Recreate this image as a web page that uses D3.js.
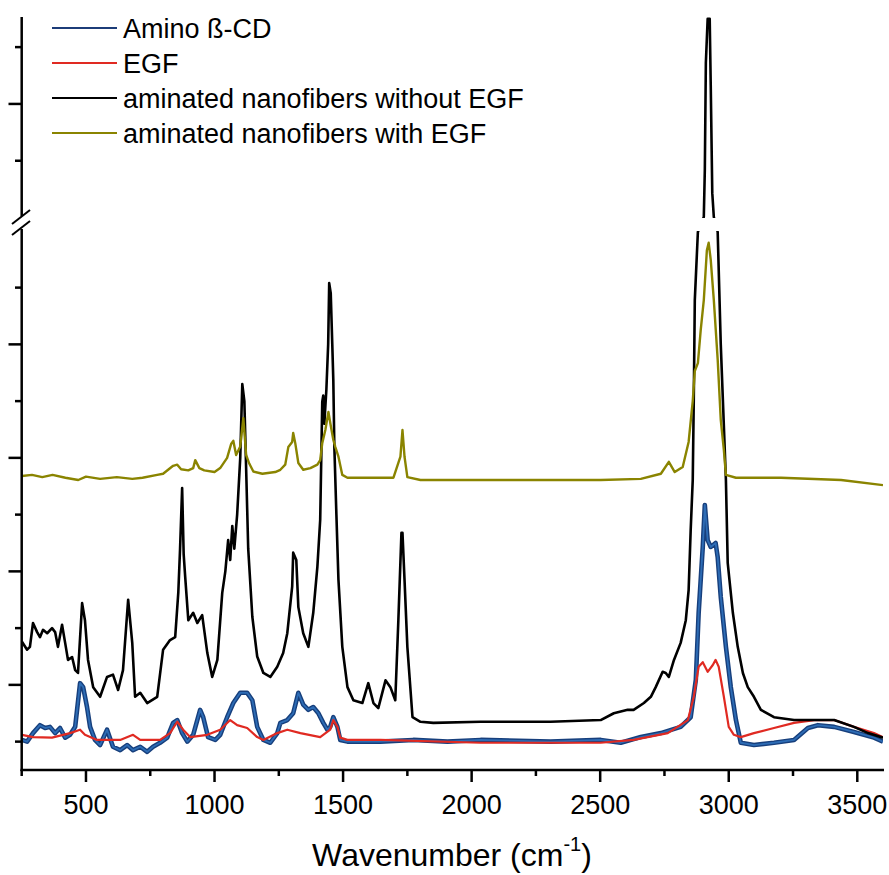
<!DOCTYPE html>
<html>
<head>
<meta charset="utf-8">
<script src="https://cdn.jsdelivr.net/npm/d3@7"></script>
<style>
  body { margin: 0; background: #fff; }
  svg { display: block; font-family: "Liberation Sans", Arial, sans-serif; }
</style>
</head>
<body>
<script>
// Raman spectra, [wavenumber (cm-1), intensity (a.u.)]
var aminoCD = [[251,3],[271,0],[294,15],[321,29],[341,24],[360,26],[380,15],[399,24],[419,7],[438,12],[458,26],[477,103],[489,96],[504,61],[516,26],[535,3],[555,-6],[582,21],[605,-9],[633,-15],[660,-6],[683,-15],[711,-9],[738,-18],[761,-9],[788,-2],[816,7],[839,33],[855,38],[874,15],[894,0],[917,12],[944,56],[956,43],[975,8],[1003,3],[1022,12],[1049,43],[1073,68],[1100,86],[1127,86],[1147,73],[1166,26],[1190,3],[1217,-2],[1244,15],[1256,33],[1283,38],[1306,50],[1326,86],[1345,65],[1365,56],[1384,61],[1404,50],[1423,33],[1439,21],[1450,26],[1462,43],[1478,26],[1489,3],[1517,0],[1645,0],[1773,3],[1906,0],[2035,3],[2307,0],[2502,3],[2580,-2],[2658,8],[2736,15],[2813,26],[2852,43],[2872,109],[2883,227],[2899,343],[2907,417],[2918,355],[2930,343],[2949,350],[2957,325],[2969,255],[2989,167],[3008,96],[3028,38],[3047,-2],[3098,-6],[3176,-2],[3254,3],[3308,24],[3347,29],[3410,26],[3487,17],[3565,7],[3600,0]];

var egf = [[251,12],[294,8],[368,7],[438,15],[477,21],[496,12],[543,3],[633,3],[683,12],[711,3],[788,3],[827,15],[855,35],[878,21],[905,8],[972,12],[1022,21],[1061,38],[1088,29],[1127,24],[1166,8],[1190,3],[1244,15],[1283,21],[1334,15],[1411,8],[1450,21],[1462,38],[1478,26],[1489,7],[1517,3],[1645,3],[2035,-2],[2502,-2],[2630,3],[2763,15],[2841,38],[2864,79],[2883,132],[2899,140],[2918,123],[2938,135],[2949,144],[2961,132],[2981,79],[3000,26],[3020,12],[3047,8],[3098,15],[3176,24],[3254,33],[3332,38],[3410,38],[3487,26],[3565,15],[3600,8]];

var fibersNoEGF = [[251,176],[271,162],[282,167],[294,209],[310,193],[321,184],[333,197],[349,191],[368,200],[380,193],[391,167],[407,206],[419,174],[430,144],[446,149],[458,126],[469,121],[485,244],[496,214],[508,144],[528,96],[555,79],[582,114],[605,118],[625,91],[644,126],[664,250],[680,174],[691,79],[711,86],[738,68],[777,79],[800,162],[827,179],[847,184],[859,262],[866,340],[874,447],[880,330],[886,290],[898,214],[917,227],[933,209],[952,223],[972,156],[991,114],[1011,144],[1030,262],[1042,300],[1053,355],[1061,320],[1069,380],[1077,340],[1088,400],[1100,500],[1108,630],[1116,600],[1123,480],[1131,340],[1147,220],[1166,150],[1190,121],[1217,114],[1244,132],[1267,156],[1283,191],[1302,273],[1306,333],[1318,320],[1326,237],[1345,191],[1365,167],[1384,227],[1400,308],[1411,391],[1419,599],[1423,610],[1427,560],[1435,620],[1442,700],[1446,808],[1452,790],[1458,700],[1462,637],[1466,520],[1474,400],[1482,285],[1497,167],[1517,96],[1540,73],[1575,68],[1598,103],[1618,68],[1637,59],[1665,108],[1684,96],[1703,73],[1715,214],[1727,368],[1731,368],[1739,285],[1750,167],[1770,43],[1801,35],[1851,33],[2035,35],[2307,35],[2502,38],[2553,50],[2607,56],[2630,56],[2670,68],[2697,79],[2716,96],[2743,123],[2755,121],[2767,114],[2787,144],[2813,174],[2833,214],[2844,267],[2852,373],[2860,461],[2864,602],[2868,778],[2880,898],[2903,1901],[2907,1984],[2911,2172],[2918,2250],[2926,2250],[2930,2133],[2936,1943],[2942,1901],[2957,898],[2969,700],[2989,461],[2996,315],[3016,227],[3035,167],[3055,121],[3074,96],[3098,79],[3125,56],[3176,43],[3254,38],[3332,38],[3410,38],[3487,26],[3542,15],[3600,7]];

var fibersEGF = [[251,468],[290,470],[330,466],[370,470],[420,465],[470,461],[500,467],[555,463],[620,466],[680,463],[720,465],[777,470],[800,472],[839,486],[855,488],[870,480],[898,478],[917,482],[925,496],[941,482],[960,478],[1000,475],[1022,482],[1049,500],[1065,525],[1073,530],[1084,505],[1100,520],[1112,570],[1123,505],[1135,490],[1151,476],[1186,472],[1236,475],[1256,479],[1275,488],[1287,519],[1302,528],[1306,544],[1314,526],[1326,491],[1345,479],[1373,482],[1400,488],[1411,496],[1419,526],[1431,549],[1443,581],[1450,562],[1462,532],[1470,519],[1482,502],[1497,470],[1517,465],[1696,465],[1723,502],[1731,549],[1739,502],[1750,466],[1801,461],[2035,461],[2307,461],[2502,461],[2658,463],[2736,472],[2767,493],[2790,475],[2821,484],[2844,528],[2860,600],[2868,653],[2880,667],[2891,725],[2903,778],[2915,866],[2922,879],[2930,849],[2942,778],[2957,673],[2969,567],[2981,514],[2989,470],[3028,465],[3203,465],[3437,461],[3600,452]];

var seriesNames = ["Amino ß-CD", "EGF", "aminated nanofibers without EGF", "aminated nanofibers with EGF"];
var seriesColors = ["#1d4e8f", "#e02a22", "#000000", "#8a8400"];
var xMajorTicks = [500, 1000, 1500, 2000, 2500, 3000, 3500];
var xMinorTicks = [250, 750, 1250, 1750, 2250, 2750, 3250];
var yMajorTicks = [100, 300, 500, 700, 2100];
var yMinorTicks = [0, 200, 400, 600, 800, 2000, 2200];

var width = 889, height = 875;

var svg = d3.select("body").append("svg")
    .attr("width", width)
    .attr("height", height);

// x scale: 250..3600 cm-1
var x = d3.scaleLinear().domain([250, 3600]).range([21.7, 883]);

// broken y scale: lower part, a gap, then upper part
var yLowTop = 232, yUpBottom = 217;
var y = d3.scaleLinear()
    .domain([-50, 898, 1901, 2253])
    .range([770, yLowTop, yUpBottom, 17]);

// clip both panels, hide the gap
var defs = svg.append("defs");
var clip = defs.append("clipPath").attr("id", "plotclip");
clip.append("rect").attr("x", 21.7).attr("y", 10).attr("width", 883 - 21.7).attr("height", yUpBottom + 1 - 10);
clip.append("rect").attr("x", 21.7).attr("y", yLowTop - 1).attr("width", 883 - 21.7).attr("height", 770 - yLowTop + 1);

var line = d3.line()
    .x(function(d) { return x(d[0]); })
    .y(function(d) { return y(d[1]); });

var plot = svg.append("g").attr("clip-path", "url(#plotclip)");

// Amino ß-CD is noisy: a dark band with lighter centre
plot.append("path").datum(aminoCD)
    .attr("d", line).attr("fill", "none")
    .attr("stroke", "#173f7c").attr("stroke-width", 4.6).attr("stroke-linejoin", "round");
plot.append("path").datum(aminoCD)
    .attr("d", line).attr("fill", "none")
    .attr("stroke", "#2d6cb5").attr("stroke-width", 1.8).attr("stroke-linejoin", "round");

plot.append("path").datum(egf)
    .attr("d", line).attr("fill", "none")
    .attr("stroke", seriesColors[1]).attr("stroke-width", 2.2).attr("stroke-linejoin", "round");

plot.append("path").datum(fibersNoEGF)
    .attr("d", line).attr("fill", "none")
    .attr("stroke", seriesColors[2]).attr("stroke-width", 2.6).attr("stroke-linejoin", "round");

plot.append("path").datum(fibersEGF)
    .attr("d", line).attr("fill", "none")
    .attr("stroke", seriesColors[3]).attr("stroke-width", 2.4).attr("stroke-linejoin", "round");

// axes
var axisG = svg.append("g").attr("stroke", "#000").attr("stroke-width", 2.5).attr("fill", "none");

axisG.append("line").attr("x1", 20.5).attr("x2", 884).attr("y1", 770).attr("y2", 770);
axisG.append("line").attr("x1", 21.7).attr("x2", 21.7).attr("y1", 17).attr("y2", 216);
axisG.append("line").attr("x1", 21.7).attr("x2", 21.7).attr("y1", 229).attr("y2", 771);

// break marks
axisG.append("line").attr("x1", 12).attr("y1", 224).attr("x2", 30).attr("y2", 210).attr("stroke-width", 2);
axisG.append("line").attr("x1", 12).attr("y1", 235).attr("x2", 30).attr("y2", 221).attr("stroke-width", 2);

xMajorTicks.forEach(function(t) {
  axisG.append("line").attr("x1", x(t)).attr("x2", x(t)).attr("y1", 770).attr("y2", 782);
});
xMinorTicks.forEach(function(t) {
  axisG.append("line").attr("x1", x(t)).attr("x2", x(t)).attr("y1", 770).attr("y2", 776);
});
yMajorTicks.forEach(function(t) {
  axisG.append("line").attr("x1", 8.5).attr("x2", 21.7).attr("y1", y(t)).attr("y2", y(t));
});
yMinorTicks.forEach(function(t) {
  axisG.append("line").attr("x1", 15).attr("x2", 21.7).attr("y1", y(t)).attr("y2", y(t));
});

svg.append("g").selectAll("text")
    .data(xMajorTicks)
  .enter().append("text")
    .attr("x", function(d) { return x(d); })
    .attr("y", 814)
    .attr("text-anchor", "middle")
    .attr("font-size", 27)
    .attr("fill", "#000")
    .text(function(d) { return d; });

// axis title with superscript
var title = svg.append("text")
    .attr("x", 452)
    .attr("y", 866)
    .attr("text-anchor", "middle")
    .attr("font-size", 32)
    .attr("fill", "#000");
title.append("tspan").text("Wavenumber (cm");
title.append("tspan").attr("font-size", 20).attr("dy", -15).text("-1");
title.append("tspan").attr("dy", 15).text(")");

// legend
var legendY = [28, 63, 98, 133];
var legend = svg.append("g");
seriesNames.forEach(function(name, i) {
  legend.append("line")
      .attr("x1", 52).attr("x2", 117)
      .attr("y1", legendY[i]).attr("y2", legendY[i])
      .attr("stroke", i == 0 ? "#1c3c78" : seriesColors[i])
      .attr("stroke-width", 2.2);
  legend.append("text")
      .attr("x", 123)
      .attr("y", legendY[i] + 9.5)
      .attr("font-size", 27)
      .attr("fill", "#000")
      .text(name);
});
</script>
</body>
</html>
